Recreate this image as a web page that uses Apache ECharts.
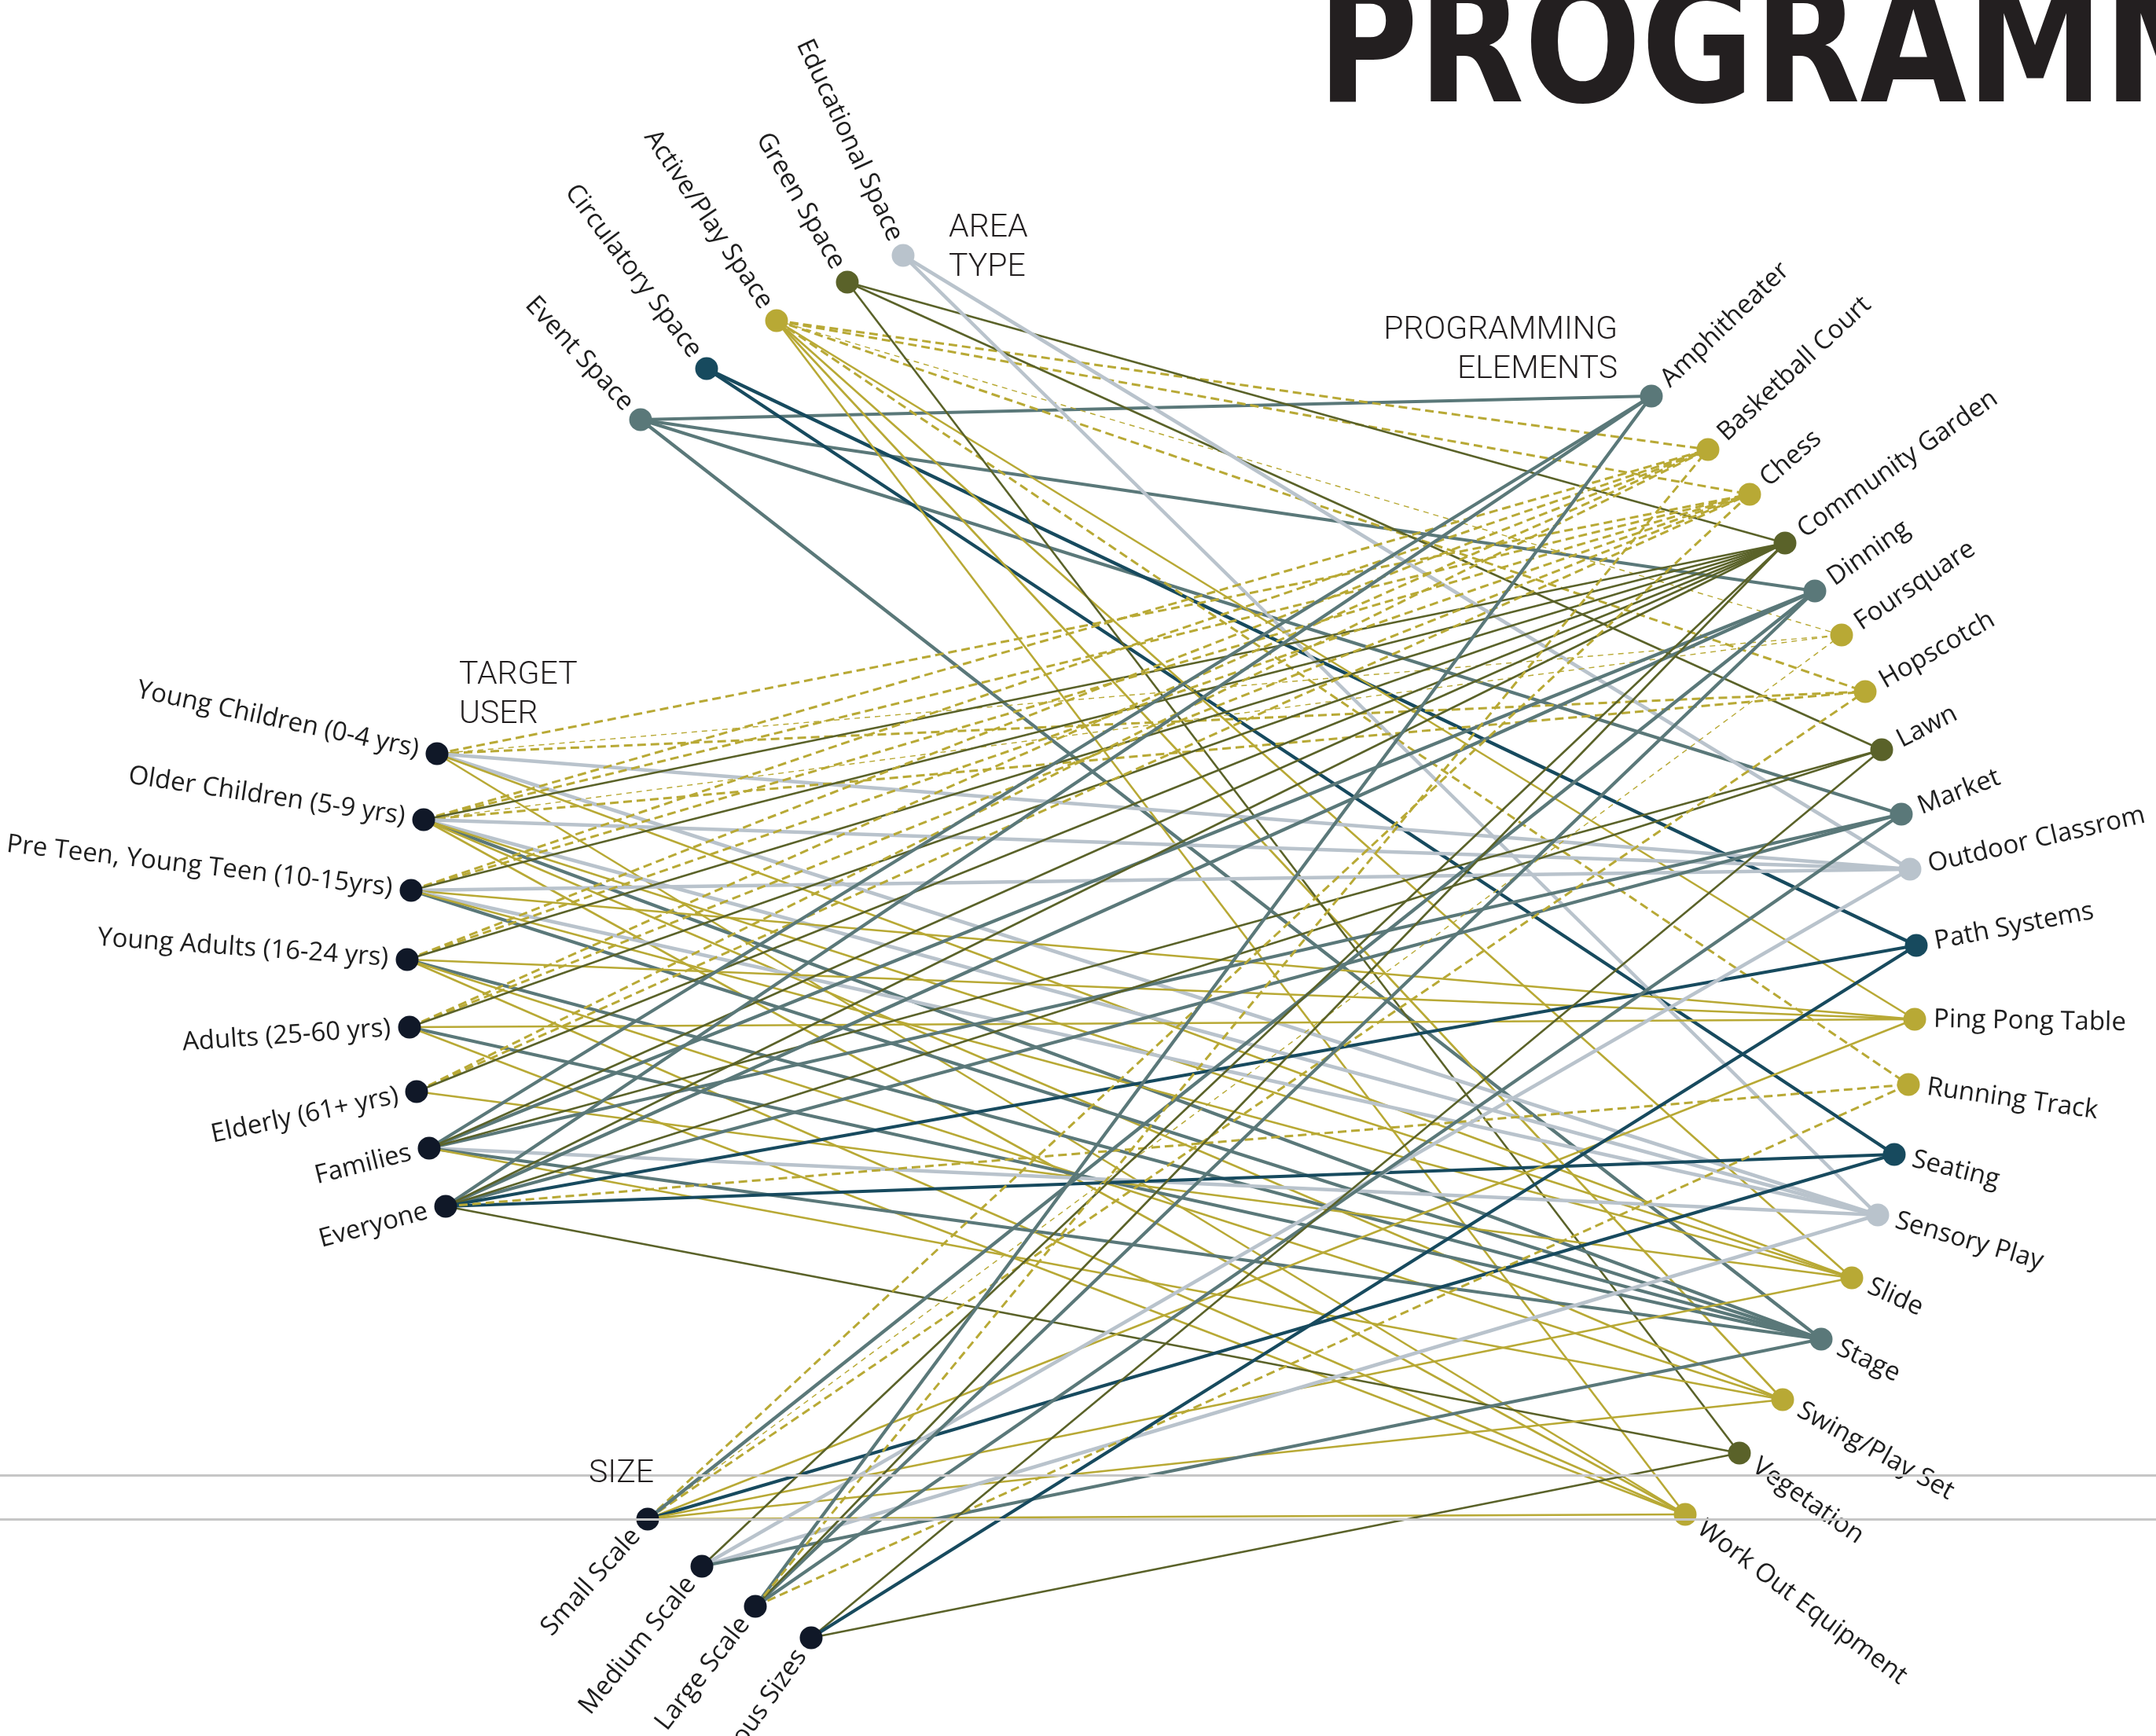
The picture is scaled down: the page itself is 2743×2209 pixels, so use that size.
<!DOCTYPE html>
<html>
<head>
<meta charset="utf-8">
<title>Programming</title>
<script src="https://cdn.jsdelivr.net/npm/echarts@6/dist/echarts.min.js"></script>
<style>
  html, body { margin: 0; padding: 0; background: #ffffff; }
  #chart { width: 2743px; height: 2209px; }
</style>
</head>
<body>
<div id="chart"></div>
<script>
// ---- nodes ----
var areaNames = ['Educational Space', 'Green Space', 'Active/Play Space', 'Circulatory Space', 'Event Space'];
var areaX = [1149, 1078, 988, 899, 815];
var areaY = [325, 359, 408, 469, 534];

var userNames = ['Young Children (0-4 yrs)', 'Older Children (5-9 yrs)', 'Pre Teen, Young Teen (10-15yrs)',
  'Young Adults (16-24 yrs)', 'Adults (25-60 yrs)', 'Elderly (61+ yrs)', 'Families', 'Everyone'];
var userX = [556, 539, 523, 518, 521, 530, 546, 567];
var userY = [959, 1043, 1133, 1221, 1307, 1389, 1461, 1535];

var sizeNames = ['Small Scale', 'Medium Scale', 'Large Scale', 'Various Sizes'];
var sizeX = [824, 893, 961, 1032];
var sizeY = [1933, 1993, 2044, 2084];

var elementNames = ['Amphitheater', 'Basketball Court', 'Chess', 'Community Garden', 'Dinning', 'Foursquare',
  'Hopscotch', 'Lawn', 'Market', 'Outdoor Classrom', 'Path Systems', 'Ping Pong Table', 'Running Track',
  'Seating', 'Sensory Play', 'Slide', 'Stage', 'Swing/Play Set', 'Vegetation', 'Work Out Equipment'];
var elementX = [2101, 2173, 2226, 2271, 2309, 2343, 2373, 2394, 2419, 2430, 2438, 2436, 2428, 2410, 2389, 2356, 2317, 2268, 2213, 2144];
var elementY = [504, 572, 629, 691, 752, 808, 880, 954, 1036, 1106, 1203, 1297, 1380, 1469, 1546, 1626, 1704, 1781, 1849, 1927];
// area type that each element belongs to
var elementArea = ['Event Space', 'Active/Play Space', 'Active/Play Space', 'Green Space', 'Event Space',
  'Active/Play Space', 'Active/Play Space', 'Green Space', 'Event Space', 'Educational Space',
  'Circulatory Space', 'Active/Play Space', 'Active/Play Space', 'Circulatory Space', 'Educational Space',
  'Active/Play Space', 'Event Space', 'Active/Play Space', 'Green Space', 'Active/Play Space'];

// ---- links (same order as userNames / sizeNames) ----
var userLinks = [
  ['Chess', 'Hopscotch', 'Foursquare', 'Outdoor Classrom', 'Sensory Play', 'Slide', 'Work Out Equipment'],
  ['Basketball Court', 'Chess', 'Hopscotch', 'Foursquare', 'Community Garden', 'Outdoor Classrom', 'Sensory Play', 'Stage', 'Slide', 'Swing/Play Set', 'Work Out Equipment'],
  ['Basketball Court', 'Chess', 'Community Garden', 'Outdoor Classrom', 'Ping Pong Table', 'Sensory Play', 'Stage', 'Slide'],
  ['Basketball Court', 'Chess', 'Community Garden', 'Ping Pong Table', 'Stage', 'Swing/Play Set', 'Work Out Equipment'],
  ['Basketball Court', 'Chess', 'Community Garden', 'Ping Pong Table', 'Stage', 'Work Out Equipment'],
  ['Basketball Court', 'Chess', 'Community Garden', 'Slide'],
  ['Amphitheater', 'Dinning', 'Market', 'Community Garden', 'Lawn', 'Sensory Play', 'Stage', 'Swing/Play Set'],
  ['Amphitheater', 'Dinning', 'Market', 'Community Garden', 'Lawn', 'Path Systems', 'Seating', 'Running Track', 'Vegetation']
];
var sizeLinks = [
  ['Chess', 'Hopscotch', 'Foursquare', 'Dinning', 'Ping Pong Table', 'Seating', 'Slide', 'Swing/Play Set', 'Work Out Equipment'],
  ['Community Garden', 'Outdoor Classrom', 'Sensory Play', 'Stage'],
  ['Amphitheater', 'Dinning', 'Market', 'Community Garden', 'Basketball Court', 'Running Track'],
  ['Lawn', 'Path Systems', 'Vegetation']
];

// ---- styling ----
var areaColors = ['#b9c3cc', '#5a6229', '#b8a935', '#174a5e', '#5a7879'];
var areaWidths = [4.5, 2.6, 2.6, 4.2, 4.2];
var nodeDark = '#101828';
// s = solid, d = dashed, t = thin dashed
var elementDash = ['s', 'd', 'd', 's', 's', 't', 'd', 's', 's', 's', 's', 's', 'd', 's', 's', 's', 's', 's', 's', 's'];

var areaAngle = [-65, -60, -56, -53, -47];
var userAngle = [-12, -8.5, -6.5, -4, 4, 12, 14, 15];
var sizeAngle = [48, 51, 52, 55];
var elementAngle = [44, 43, 41, 35, 35, 34, 30, 27, 21, 13, 11, -1, -8, -14, -16, -24, -25, -29, -35, -37];

var chart = echarts.init(document.getElementById('chart'));

var pos = {};
var nodes = [];
function addNodes(names, xs, ys, colors, angles, side, gap) {
  for (var i = 0; i < names.length; i++) {
    pos[names[i]] = [xs[i], ys[i]];
    nodes.push({
      name: names[i],
      value: [xs[i], ys[i]],
      itemStyle: { color: colors[i], opacity: 1 },
      label: {
        rotate: angles[i],
        align: side,
        padding: side === 'left' ? [0, 0, 0, gap] : [0, gap, 0, 0]
      }
    });
  }
}
function fill(n, c) { var a = []; for (var i = 0; i < n; i++) a.push(c); return a; }

addNodes(areaNames, areaX, areaY, areaColors, areaAngle, 'right', 22);
addNodes(userNames, userX, userY, fill(userNames.length, nodeDark), userAngle, 'right', 24);
addNodes(sizeNames, sizeX, sizeY, fill(sizeNames.length, nodeDark), sizeAngle, 'right', 22);
addNodes(elementNames, elementX, elementY,
  elementArea.map(function (a) { return areaColors[areaNames.indexOf(a)]; }),
  elementAngle, 'left', 24);

var edges = [];
function addEdge(from, el) {
  var k = elementNames.indexOf(el);
  var a = areaNames.indexOf(elementArea[k]);
  var d = elementDash[k];
  edges.push({
    coords: [pos[from], pos[el]],
    lineStyle: {
      color: areaColors[a],
      width: d === 'd' ? 3 : (d === 't' ? 1.4 : areaWidths[a]),
      type: d === 'd' ? [11, 6] : (d === 't' ? [7, 6] : 'solid'),
      opacity: 1
    }
  });
}
elementNames.forEach(function (el, k) { addEdge(elementArea[k], el); });
userLinks.forEach(function (list, u) { list.forEach(function (el) { addEdge(userNames[u], el); }); });
sizeLinks.forEach(function (list, s) { list.forEach(function (el) { addEdge(sizeNames[s], el); }); });

var headerFont = { fontFamily: 'Roboto', fontWeight: 300, fontSize: 41, fill: '#231f20', lineHeight: 50 };

var option = {
  animation: false,
  backgroundColor: '#ffffff',
  grid: { left: 0, right: 0, top: 0, bottom: 0 },
  xAxis: { type: 'value', min: 0, max: 2743, show: false },
  yAxis: { type: 'value', min: 0, max: 2209, inverse: true, show: false },
  graphic: [
    { type: 'text', x: 1676, y: 74, scaleX: 1.03, scaleY: 1.24, z: 10,
      style: { text: 'PROGRAMMING', fontFamily: 'DejaVu Sans', fontWeight: 'bold', fontSize: 170,
        fill: '#231f20', verticalAlign: 'middle' } },
    { type: 'text', x: 1207, y: 266, z: 10,
      style: Object.assign({ text: 'AREA\nTYPE', verticalAlign: 'top' }, headerFont) },
    { type: 'text', x: 584, y: 835, z: 10,
      style: Object.assign({ text: 'TARGET\nUSER', verticalAlign: 'top' }, headerFont) },
    { type: 'text', x: 2058, y: 396, z: 10,
      style: Object.assign({ text: 'PROGRAMMING\nELEMENTS', align: 'right', verticalAlign: 'top' }, headerFont) },
    { type: 'text', x: 749, y: 1876, z: 10,
      style: Object.assign({ text: 'SIZE', verticalAlign: 'middle' }, headerFont) }
  ],
  series: [
    {
      type: 'scatter',
      data: [],
      z: 1,
      silent: true,
      markLine: {
        silent: true,
        symbol: 'none',
        label: { show: false },
        lineStyle: { color: '#c6c6c6', width: 3, type: 'solid' },
        data: [{ yAxis: 1877 }, { yAxis: 1933 }]
      }
    },
    {
      type: 'lines',
      coordinateSystem: 'cartesian2d',
      z: 2,
      silent: true,
      data: edges
    },
    {
      type: 'scatter',
      z: 3,
      symbol: 'circle',
      symbolSize: 29,
      data: nodes,
      label: {
        show: true,
        position: ['50%', '50%'],
        verticalAlign: 'middle',
        formatter: '{b}',
        color: '#1e1e1e',
        fontFamily: 'Open Sans',
        fontSize: 33
      }
    }
  ]
};

chart.setOption(option);
</script>
</body>
</html>
